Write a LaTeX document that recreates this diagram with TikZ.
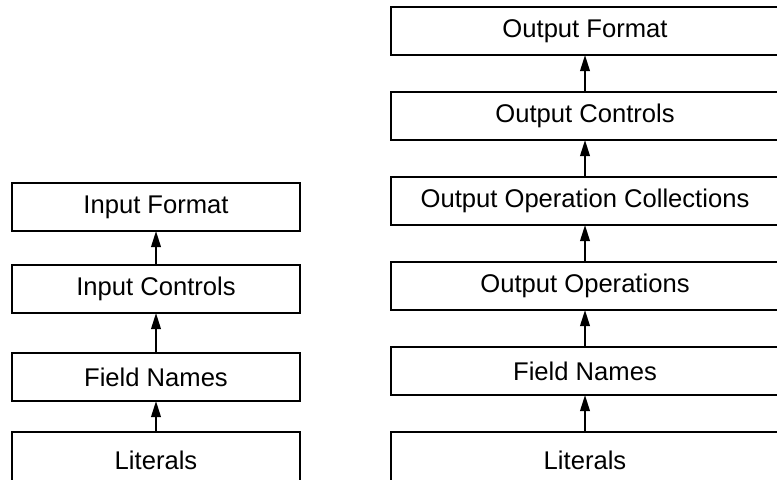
\documentclass[tikz,border=0pt]{standalone}
\usepackage{fontspec}
\setmainfont{Liberation Sans}
\usetikzlibrary{arrows.meta,positioning}

\begin{document}
\begin{tikzpicture}[font=\fontsize{12.8pt}{15pt}\selectfont,>=Latex,node distance=18.5pt,
 layer/.style={draw,line width=0.9pt,minimum height=24pt,inner sep=0pt,outer sep=0pt,align=center},
 inbox/.style={layer,minimum width=144pt},
 outbox/.style={layer,minimum width=194pt},
 base/.style={minimum height=28pt,anchor=north},
 flow/.style={-{Triangle[length=8pt,width=4.8pt]},line width=0.9pt}]
\useasboundingbox (0,0) rectangle (388.5pt,-239.5pt);
% input side
\node[inbox,base] (il) at (78pt,-216pt) {Literals};
\node[inbox,above=15.5pt of il] (ifn) {Field Names};
\node[inbox,above=20pt of ifn] (ic) {Input Controls};
\node[inbox,above=17pt of ic] (if) {Input Format};
\draw[flow] (il)--(ifn);
\draw[flow] (ifn)--(ic);
\draw[flow] (ic)--(if);
% output side
\node[outbox,base] (ol) at (292.5pt,-216pt) {Literals};
\node[outbox,above=of ol] (ofn) {Field Names};
\node[outbox,above=of ofn] (oop) {Output Operations};
\node[outbox,above=of oop] (ocol) {Output Operation Collections};
\node[outbox,above=of ocol] (oc) {Output Controls};
\node[outbox,above=of oc] (of) {Output Format};
\draw[flow] (ol)--(ofn);
\draw[flow] (ofn)--(oop);
\draw[flow] (oop)--(ocol);
\draw[flow] (ocol)--(oc);
\draw[flow] (oc)--(of);
\end{tikzpicture}
\end{document}
